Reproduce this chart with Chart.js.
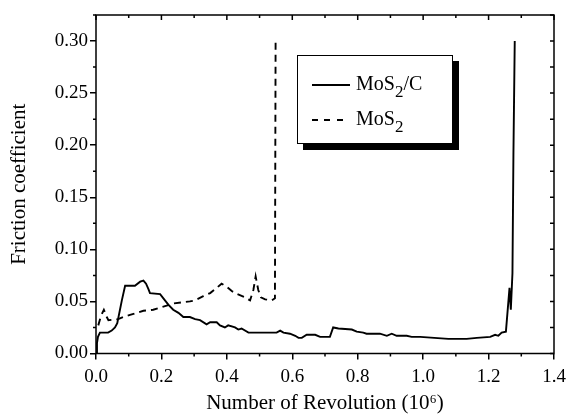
<!DOCTYPE html>
<html>
<head>
<meta charset="utf-8">
<script src="https://cdn.jsdelivr.net/npm/chart.js@4.4.0/dist/chart.umd.min.js"></script>
<style>
  body { margin: 0; background: #fff; }
  #wrap { position: relative; width: 569px; height: 416px; }
  #legend {
    position: absolute; left: 297px; top: 55px; width: 156px; height: 89px;
    box-sizing: border-box; border: 1px solid #000; background: #fff;
    box-shadow: 6px 6px 0 #000;
    font-family: "Liberation Serif", "Times New Roman", serif; font-size: 20px; color: #000;
  }
  .row { position: absolute; left: 14px; height: 24px; line-height: 24px; white-space: nowrap; }
  .sample { display: inline-block; width: 38px; height: 2px; vertical-align: middle; margin-right: 6px; }
  .solid { background: #000; }
  .dash { width: 32px; margin-right: 12px; background: repeating-linear-gradient(90deg, #000 0 6px, transparent 6px 12.5px); }
  .sub { font-size: 17px; position: relative; top: 7px; }
</style>
</head>
<body>
<div id="wrap">
  <canvas id="frictionChart" width="569" height="416"></canvas>
  <div id="legend">
    <div class="row" style="top: 15px;"><span class="sample solid"></span>MoS<span class="sub">2</span>/C</div>
    <div class="row" style="top: 50px;"><span class="sample dash"></span>MoS<span class="sub">2</span></div>
  </div>
</div>
<script>
const xTicks = [0, 0.2, 0.4, 0.6, 0.8, 1.0, 1.2, 1.4];
const yTicks = [0, 0.05, 0.10, 0.15, 0.20, 0.25, 0.30];

// MoS2/C (solid)
const solidX = [0, 0.003, 0.006, 0.012, 0.037, 0.048, 0.058, 0.065, 0.079, 0.089, 0.119, 0.135, 0.145, 0.153, 0.160,
  0.165, 0.196, 0.206, 0.221, 0.236, 0.252, 0.267, 0.287, 0.303, 0.318, 0.338, 0.349, 0.369, 0.379, 0.394,
  0.404, 0.425, 0.435, 0.445, 0.466, 0.552, 0.563, 0.573, 0.593, 0.609, 0.619, 0.629, 0.644, 0.670, 0.685,
  0.700, 0.715, 0.725, 0.741, 0.782, 0.797, 0.817, 0.827, 0.868, 0.889, 0.904, 0.919, 0.950, 0.965, 0.991,
  1.077, 1.133, 1.164, 1.205, 1.220, 1.230, 1.240, 1.253, 1.264, 1.268, 1.273, 1.276, 1.280];
const solidY = [0, 0.010, 0.016, 0.020, 0.020, 0.022, 0.025, 0.029, 0.051, 0.065, 0.065, 0.069, 0.070, 0.067, 0.062,
  0.058, 0.057, 0.053, 0.047, 0.042, 0.039, 0.035, 0.035, 0.033, 0.032, 0.028, 0.030, 0.030, 0.027, 0.025,
  0.027, 0.025, 0.023, 0.024, 0.020, 0.020, 0.022, 0.020, 0.019, 0.017, 0.015, 0.015, 0.018, 0.018, 0.016,
  0.016, 0.016, 0.025, 0.024, 0.023, 0.021, 0.020, 0.019, 0.019, 0.017, 0.019, 0.017, 0.017, 0.016, 0.016,
  0.014, 0.014, 0.015, 0.016, 0.018, 0.017, 0.020, 0.021, 0.063, 0.042, 0.077, 0.192, 0.300];

// MoS2 (dashed)
const dashX = [0.007, 0.015, 0.024, 0.033, 0.038, 0.068, 0.083, 0.104, 0.145, 0.175, 0.206, 0.236, 0.287, 0.303, 0.328,
  0.349, 0.369, 0.384, 0.400, 0.415, 0.425, 0.455, 0.471, 0.481, 0.488, 0.496, 0.504, 0.517, 0.537, 0.547, 0.549];
const dashY = [0.027, 0.036, 0.042, 0.035, 0.032, 0.033, 0.035, 0.037, 0.041, 0.042, 0.045, 0.048, 0.050, 0.051, 0.055,
  0.058, 0.063, 0.067, 0.064, 0.060, 0.058, 0.054, 0.051, 0.061, 0.074, 0.061, 0.054, 0.052, 0.051, 0.053, 0.300];

const toPoints = (xs, ys) => xs.map((x, i) => ({ x: x, y: ys[i] }));
const serif = "'Liberation Serif', 'Times New Roman', serif";

// frame, minor ticks and inside ticks on top/right
const framePlugin = {
  id: "frame",
  afterDraw(chart) {
    const { ctx, chartArea: { left, right, top, bottom }, scales: { x, y } } = chart;
    ctx.save();
    ctx.strokeStyle = "#000";
    ctx.lineWidth = 1.5;
    ctx.strokeRect(left, top, right - left, bottom - top);
    ctx.beginPath();
    for (let i = 0; i <= 14; i++) {
      const px = x.getPixelForValue(i / 10);
      if (i % 2) { ctx.moveTo(px, bottom); ctx.lineTo(px, bottom + 3); }
      ctx.moveTo(px, top); ctx.lineTo(px, top + (i % 2 ? 3 : 5));
    }
    for (let i = 0; i <= 13; i++) {
      const py = y.getPixelForValue(i * 0.025);
      if (i % 2) { ctx.moveTo(left, py); ctx.lineTo(left - 3, py); }
      ctx.moveTo(right, py); ctx.lineTo(right - 4, py);
    }
    ctx.stroke();
    ctx.restore();
  },
};

const ctx = document.getElementById("frictionChart").getContext("2d");

const frictionChart = new Chart(ctx, {
  type: "line",
  data: {
    datasets: [
      {
        label: "MoS2/C",
        data: toPoints(solidX, solidY),
        borderColor: "#000",
        borderWidth: 1.9,
        pointRadius: 0,
        tension: 0,
        fill: false,
      },
      {
        label: "MoS2",
        data: toPoints(dashX, dashY),
        borderColor: "#000",
        borderWidth: 1.9,
        borderDash: [7, 5],
        pointRadius: 0,
        tension: 0,
        fill: false,
      },
    ],
  },
  options: {
    responsive: false,
    animation: false,
    layout: { padding: { top: 15, right: 15, left: 0, bottom: 0 } },
    scales: {
      x: {
        type: "linear",
        min: 0,
        max: 1.4,
        afterBuildTicks: (s) => { s.ticks = xTicks.map((v) => ({ value: v })); },
        afterFit: (s) => { s.height = 62.5; s.paddingRight = 0; s.paddingLeft = 0; },
        grid: { drawOnChartArea: false, tickLength: 6, color: "#000", lineWidth: 1.5 },
        border: { display: false },
        ticks: {
          color: "#000",
          font: { family: serif, size: 19 },
          padding: 6,
          callback: (v) => v.toFixed(1),
        },
        title: {
          display: true,
          text: "Number of Revolution (10\u2076)",
          color: "#000",
          font: { family: serif, size: 21 },
          padding: { top: 0, bottom: 0 },
        },
      },
      y: {
        min: 0,
        max: 0.325,
        afterBuildTicks: (s) => { s.ticks = yTicks.map((v) => ({ value: v })); },
        afterFit: (s) => { s.width = 96; },
        grid: { drawOnChartArea: false, tickLength: 6, color: "#000", lineWidth: 1.5 },
        border: { display: false },
        ticks: {
          color: "#000",
          font: { family: serif, size: 19 },
          padding: 2,
          callback: (v) => v.toFixed(2),
        },
        title: {
          display: true,
          text: "Friction coefficient",
          color: "#000",
          font: { family: serif, size: 21 },
          padding: { top: 7, bottom: 0 },
        },
      },
    },
    plugins: {
      legend: { display: false },
      tooltip: { enabled: false },
    },
  },
  plugins: [framePlugin],
});
</script>
</body>
</html>
